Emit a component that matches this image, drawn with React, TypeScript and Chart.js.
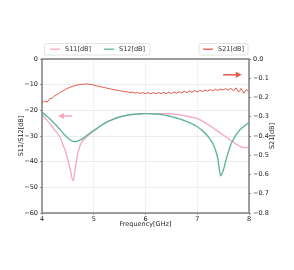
import React, { useEffect, useRef } from "react";
import { Chart, registerables } from "chart.js";

Chart.register(...registerables);

const FREQ = [
  4.0, 4.05, 4.1, 4.15, 4.2, 4.25, 4.3, 4.35, 4.4, 4.45,
  4.5, 4.55, 4.6, 4.65, 4.7, 4.75, 4.8, 4.85, 4.9, 4.95,
  5.0, 5.05, 5.1, 5.15, 5.2, 5.25, 5.3, 5.35, 5.4, 5.45,
  5.5, 5.55, 5.6, 5.65, 5.7, 5.75, 5.8, 5.85, 5.9, 5.95,
  6.0, 6.05, 6.1, 6.15, 6.2, 6.25, 6.3, 6.35, 6.4, 6.45,
  6.5, 6.55, 6.6, 6.65, 6.7, 6.75, 6.8, 6.85, 6.9, 6.95,
  7.0, 7.05, 7.1, 7.15, 7.2, 7.25, 7.3, 7.35, 7.4, 7.45,
  7.5, 7.55, 7.6, 7.65, 7.7, 7.75, 7.8, 7.85, 7.9, 7.95,
  8.0,
];

const S11 = [
  -21.8, -22.8, -23.9, -25.1, -26.4, -27.7, -29.0, -30.5, -33.2, -35.8,
  -39.2, -43.5, -47.5, -41.5, -36.0, -33.0, -31.6, -30.6, -29.7, -28.8,
  -28.0, -27.25, -26.5, -25.8, -25.2, -24.6, -24.1, -23.7, -23.3, -22.9,
  -22.6, -22.3, -22.1, -21.9, -21.7, -21.6, -21.5, -21.4, -21.4, -21.3,
  -21.3, -21.3, -21.3, -21.3, -21.3, -21.3, -21.3, -21.3, -21.3, -21.35,
  -21.4, -21.5, -21.6, -21.7, -21.9, -22.1, -22.3, -22.5, -22.7, -22.9,
  -23.2, -23.6, -24.2, -24.8, -25.4, -26.1, -26.8, -27.5, -28.2, -28.9,
  -29.6, -30.3, -31.0, -31.7, -32.4, -33.1, -33.7, -34.2, -34.5, -34.5,
  -34.4,
];

const S12 = [
  -20.8, -21.6, -22.4, -23.3, -24.3, -25.3, -26.4, -27.5, -28.7, -29.8,
  -30.8, -31.6, -32.1, -32.2, -31.9, -31.4, -30.8, -30.0, -29.2, -28.5,
  -27.9, -27.2, -26.5, -25.8, -25.2, -24.6, -24.1, -23.7, -23.3, -22.9,
  -22.6, -22.3, -22.1, -21.9, -21.7, -21.6, -21.5, -21.4, -21.4, -21.3,
  -21.3, -21.3, -21.35, -21.4, -21.45, -21.5, -21.6, -21.75, -21.95, -22.2,
  -22.45, -22.7, -23.0, -23.3, -23.6, -24.0, -24.4, -24.8, -25.3, -25.8,
  -26.4, -27.1, -27.9, -28.9, -30.0, -31.3, -32.9, -35.3, -39.0, -45.5,
  -43.5, -39.8, -36.3, -33.3, -31.3, -29.6, -28.2, -27.1, -26.3, -25.5,
  -24.8,
];

const S21 = [
  -0.23, -0.218, -0.224, -0.206, -0.203, -0.19, -0.184, -0.174, -0.166, -0.158,
  -0.152, -0.146, -0.141, -0.137, -0.134, -0.132, -0.131, -0.13, -0.131, -0.133,
  -0.136, -0.139, -0.142, -0.145, -0.148, -0.151, -0.154, -0.157, -0.16, -0.162,
  -0.165, -0.167, -0.17, -0.17, -0.174, -0.172, -0.177, -0.174, -0.179, -0.175,
  -0.18, -0.175, -0.181, -0.175, -0.181, -0.174, -0.181, -0.173, -0.18, -0.172,
  -0.179, -0.171, -0.178, -0.17, -0.176, -0.168, -0.175, -0.166, -0.173, -0.164,
  -0.171, -0.163, -0.169, -0.161, -0.167, -0.159, -0.165, -0.157, -0.163, -0.156,
  -0.161, -0.154, -0.162, -0.152, -0.166, -0.15, -0.172, -0.153, -0.178, -0.158,
  -0.17,
];

const SERIES_NAMES = ["S11[dB]", "S12[dB]", "S21[dB]"];
const X_TITLE = "Frequency[GHz]";
const Y_LEFT_TITLE = "S11/S12[dB]";
const Y_RIGHT_TITLE = "S21[dB]";

const PINK = "#f4a8b8";
const GREEN = "#5db69b";
const RED = "#e2584a";
const SPINE = "#808080";
const FONT = '"DejaVu Sans", sans-serif';

// arrows in data coordinates
const ARROW_S11 = { from: 4.58, to: 4.31, level: -22.2 };
const ARROW_S21 = { from: 7.5, to: 7.86, level: -0.082 };

const minus = (s: string) => s.replace("-", "\u2212");

function drawArrow(ctx: CanvasRenderingContext2D, x1: number, x2: number, y: number, color: string) {
  const dir = Math.sign(x2 - x1);
  const head = 6;
  ctx.save();
  ctx.strokeStyle = color;
  ctx.fillStyle = color;
  ctx.lineWidth = 1.5;
  ctx.beginPath();
  ctx.moveTo(x1, y);
  ctx.lineTo(x2 - dir * head, y);
  ctx.stroke();
  ctx.beginPath();
  ctx.moveTo(x2, y);
  ctx.lineTo(x2 - dir * head, y - 3);
  ctx.lineTo(x2 - dir * head, y + 3);
  ctx.closePath();
  ctx.fill();
  ctx.restore();
}

function legendBox(ctx: CanvasRenderingContext2D, x: number, y: number, w: number, h: number) {
  ctx.save();
  ctx.fillStyle = "rgba(255,255,255,0.9)";
  ctx.strokeStyle = "#dcdcdc";
  ctx.lineWidth = 0.8;
  ctx.beginPath();
  const r = 2;
  ctx.moveTo(x + r, y);
  ctx.lineTo(x + w - r, y);
  ctx.quadraticCurveTo(x + w, y, x + w, y + r);
  ctx.lineTo(x + w, y + h - r);
  ctx.quadraticCurveTo(x + w, y + h, x + w - r, y + h);
  ctx.lineTo(x + r, y + h);
  ctx.quadraticCurveTo(x, y + h, x, y + h - r);
  ctx.lineTo(x, y + r);
  ctx.quadraticCurveTo(x, y, x + r, y);
  ctx.closePath();
  ctx.fill();
  ctx.stroke();
  ctx.restore();
}

function legendItem(ctx: CanvasRenderingContext2D, x: number, y: number, color: string, label: string, lw: number) {
  ctx.save();
  ctx.strokeStyle = color;
  ctx.lineWidth = lw;
  ctx.beginPath();
  ctx.moveTo(x, y);
  ctx.lineTo(x + 10, y);
  ctx.stroke();
  ctx.fillStyle = "#333";
  ctx.font = `6.5px ${FONT}`;
  ctx.textBaseline = "middle";
  ctx.textAlign = "left";
  ctx.fillText(label, x + 15, y + 0.3);
  ctx.restore();
}

const decorPlugin = {
  id: "decor",
  afterDatasetsDraw(chart: any) {
    const { ctx, chartArea } = chart;
    const xS = chart.scales.x;
    const yL = chart.scales.y;
    const yR = chart.scales.y1;
    ctx.save();
    ctx.strokeStyle = SPINE;
    ctx.lineWidth = 1.5;
    ctx.strokeRect(chartArea.left, chartArea.top, chartArea.right - chartArea.left, chartArea.bottom - chartArea.top);
    ctx.restore();
    drawArrow(ctx, xS.getPixelForValue(ARROW_S11.from), xS.getPixelForValue(ARROW_S11.to), yL.getPixelForValue(ARROW_S11.level), PINK);
    drawArrow(ctx, xS.getPixelForValue(ARROW_S21.from), xS.getPixelForValue(ARROW_S21.to), yR.getPixelForValue(ARROW_S21.level), RED);
  },
  afterDraw(chart: any) {
    const { ctx, chartArea } = chart;
    const midY = (chartArea.top + chartArea.bottom) / 2;
    const midX = (chartArea.left + chartArea.right) / 2;
    ctx.save();
    ctx.fillStyle = "#222";
    ctx.font = `6.5px ${FONT}`;
    ctx.textAlign = "center";
    ctx.textBaseline = "middle";
    ctx.fillText(X_TITLE, midX, chartArea.bottom + 11);
    ctx.translate(21, midY);
    ctx.rotate(-Math.PI / 2);
    ctx.fillText(Y_LEFT_TITLE, 0, 0);
    ctx.restore();
    ctx.save();
    ctx.fillStyle = "#222";
    ctx.font = `6.5px ${FONT}`;
    ctx.textAlign = "center";
    ctx.textBaseline = "middle";
    ctx.translate(chartArea.right + 23, midY);
    ctx.rotate(-Math.PI / 2);
    ctx.fillText(Y_RIGHT_TITLE, 0, 0);
    ctx.restore();
    legendBox(ctx, 44.5, 43.5, 105.5, 11.5);
    legendItem(ctx, 50, 49.2, PINK, SERIES_NAMES[0], 1.3);
    legendItem(ctx, 104, 49.2, GREEN, SERIES_NAMES[1], 1.3);
    legendBox(ctx, 199, 43.5, 49, 11.5);
    legendItem(ctx, 203, 49.2, RED, SERIES_NAMES[2], 1.3);
  },
};

export default function App() {
  const ref = useRef<HTMLCanvasElement | null>(null);
  useEffect(() => {
    if (!ref.current) return;
    const tickFont = { family: FONT, size: 6.5 };
    const chart = new Chart(ref.current, {
      type: "line",
      data: {
        datasets: [
          {
            label: SERIES_NAMES[0],
            data: FREQ.map((f, i) => ({ x: f, y: S11[i] })),
            borderColor: PINK,
            borderWidth: 1.3,
            pointRadius: 0,
            cubicInterpolationMode: "monotone",
            yAxisID: "y",
            order: 1,
          },
          {
            label: SERIES_NAMES[1],
            data: FREQ.map((f, i) => ({ x: f, y: S12[i] })),
            borderColor: GREEN,
            borderWidth: 1.4,
            pointRadius: 0,
            cubicInterpolationMode: "monotone",
            yAxisID: "y",
            order: 0,
          },
          {
            label: SERIES_NAMES[2],
            data: FREQ.map((f, i) => ({ x: f, y: S21[i] })),
            borderColor: RED,
            borderWidth: 1,
            pointRadius: 0,
            tension: 0,
            yAxisID: "y1",
            order: 2,
          },
        ],
      },
      options: {
        animation: false,
        responsive: false,
        devicePixelRatio: 1,
        layout: { padding: { top: 59, left: 0, right: 0, bottom: 0 } },
        plugins: { legend: { display: false }, tooltip: { enabled: false } },
        scales: {
          x: {
            type: "linear",
            min: 4,
            max: 8,
            afterFit: (s: any) => { s.height = 57; },
            ticks: { stepSize: 1, font: tickFont, color: "#222", padding: 0, maxRotation: 0 },
            grid: { color: "#eeeeee", tickColor: SPINE, tickLength: 2, lineWidth: 0.8 },
            border: { display: false },
          },
          y: {
            type: "linear",
            position: "left",
            min: -60,
            max: 0,
            afterFit: (s: any) => { s.width = 42; },
            ticks: { stepSize: 10, font: tickFont, color: "#222", padding: 2, callback: (v: any) => minus(String(v)) },
            grid: { color: "#e6e6e6", tickColor: SPINE, tickLength: 2, lineWidth: 0.8 },
            border: { display: false },
          },
          y1: {
            type: "linear",
            position: "right",
            min: -0.8,
            max: 0,
            afterFit: (s: any) => { s.width = 45; },
            ticks: {
              stepSize: 0.1,
              font: tickFont,
              color: "#222",
              padding: 2,
              callback: (v: any) => {
                const n = Number(v);
                return Math.abs(n) < 1e-9 ? "0.0" : minus(n.toFixed(1));
              },
            },
            grid: { drawOnChartArea: false, tickColor: SPINE, tickLength: 2 },
            border: { display: false },
          },
        },
      },
      plugins: [decorPlugin],
    } as any);
    return () => chart.destroy();
  }, []);
  return (
    <div style={{ position: "fixed", left: 0, top: 0, width: 294, height: 270, background: "#fff" }}>
      <canvas ref={ref} width={294} height={270} />
    </div>
  );
}
